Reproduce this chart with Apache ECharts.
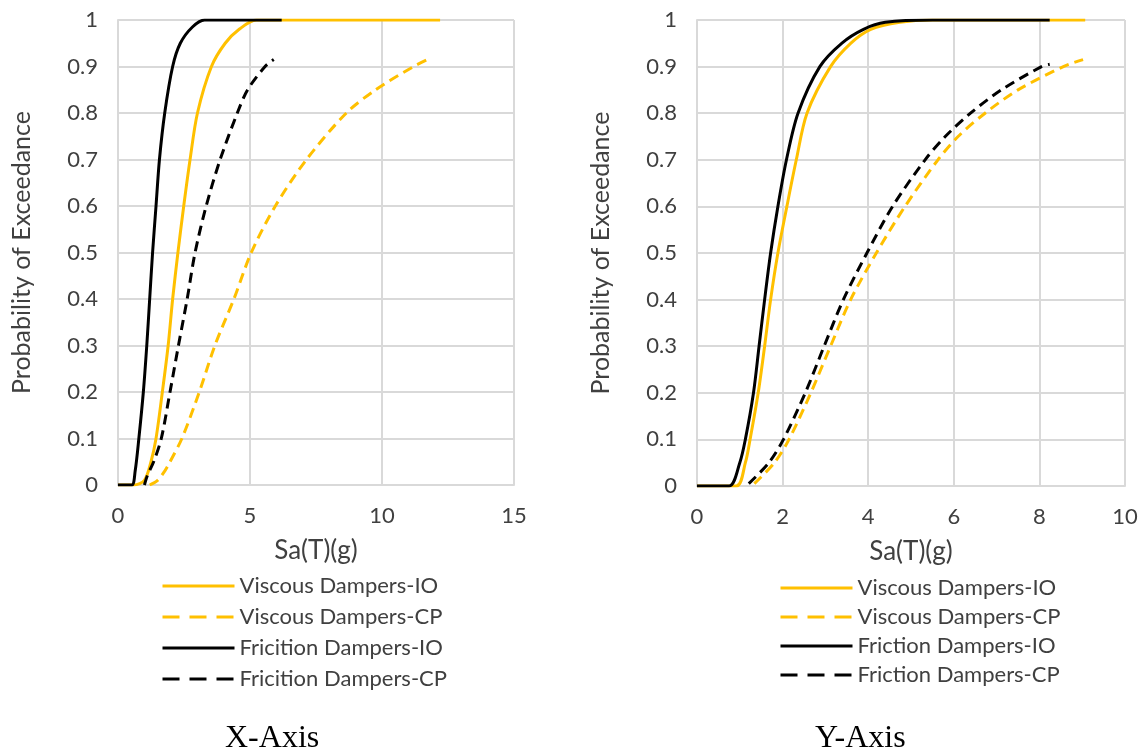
<!DOCTYPE html>
<html><head><meta charset="utf-8">
<script src="https://cdn.jsdelivr.net/npm/echarts@6/dist/echarts.min.js"></script>
<style>html,body{margin:0;padding:0;background:#fff}#c{width:1147px;height:753px}</style>
</head><body><div id="c"></div>
<script>
// ---- Data ----
const yTicks = [0,0.1,0.2,0.3,0.4,0.5,0.6,0.7,0.8,0.9,1];
const xTicksLeft = [0,5,10,15];
const xTicksRight = [0,2,4,6,8,10];
const leftNames = ['Viscous Dampers-IO','Viscous Dampers-CP','Fricition Dampers-IO','Fricition Dampers-CP'];
const rightNames = ['Viscous Dampers-IO','Viscous Dampers-CP','Friction Dampers-IO','Friction Dampers-CP'];
const captions = ['X-Axis','Y-Axis'];

// X-Axis panel
const viscIO_X = [[0,0],[0.6,0],[1.0,0.01],[1.25,0.05],[1.44,0.1],[1.68,0.2],[1.9,0.3],[2.07,0.4],[2.27,0.5],[2.49,0.6],[2.73,0.7],[3.01,0.8],[3.54,0.9],[4.06,0.95],[4.59,0.98],[5.24,1.0],[12.2,1.0]];
const viscCP_X = [[1.2,0],[1.5,0.01],[1.77,0.03],[1.97,0.05],[2.42,0.1],[3.08,0.2],[3.67,0.3],[4.39,0.4],[5.05,0.5],[5.96,0.6],[7.14,0.7],[8.65,0.8],[9.76,0.85],[11.2,0.9],[11.73,0.915]];
const fricIO_X = [[0,0],[0.52,0],[0.65,0.03],[0.79,0.1],[0.96,0.2],[1.09,0.3],[1.2,0.4],[1.31,0.5],[1.44,0.6],[1.57,0.7],[1.77,0.8],[2.07,0.9],[2.36,0.95],[2.82,0.985],[3.28,1.0],[6.2,1.0]];
const fricCP_X = [[1.0,0],[1.11,0.02],[1.35,0.05],[1.64,0.1],[1.97,0.2],[2.29,0.3],[2.62,0.4],[2.92,0.5],[3.34,0.6],[3.87,0.7],[4.52,0.8],[4.91,0.85],[5.57,0.9],[5.9,0.915]];

// Y-Axis panel
const viscIO_Y = [[0,0],[0.92,0],[1.13,0.05],[1.24,0.1],[1.43,0.2],[1.58,0.3],[1.72,0.4],[1.89,0.5],[2.1,0.6],[2.32,0.7],[2.57,0.8],[3.12,0.9],[3.59,0.95],[4.06,0.98],[4.74,0.995],[5.5,1.0],[9.07,1.0]];
const viscCP_Y = [[1.34,0.005],[1.81,0.05],[2.15,0.1],[2.66,0.2],[3.12,0.3],[3.59,0.4],[4.19,0.5],[4.86,0.6],[5.63,0.7],[6.1,0.75],[6.73,0.8],[7.5,0.85],[8.56,0.9],[9.02,0.915]];
const fricIO_Y = [[0,0],[0.75,0],[1.0,0.05],[1.13,0.1],[1.32,0.2],[1.45,0.3],[1.58,0.4],[1.72,0.5],[1.89,0.6],[2.09,0.7],[2.36,0.8],[2.87,0.9],[3.38,0.95],[3.89,0.98],[4.4,0.995],[5.5,1.0],[8.24,1.0]];
const fricCP_Y = [[1.21,0.005],[1.68,0.05],[2.02,0.1],[2.53,0.2],[2.97,0.3],[3.42,0.4],[3.97,0.5],[4.57,0.6],[5.33,0.7],[5.8,0.75],[6.39,0.8],[7.11,0.85],[8.05,0.9],[8.24,0.905]];

// ---- Styling ----
const FONT = 'Lato';
const YEL = '#FFC000', BLK = '#000000', GRID = '#d9d9d9', TXT = '#404040';
const DASH = [10,6];

function xAxis(idx, max, interval){
  return {type:'value', gridIndex:idx, min:0, max:max, interval:interval,
    name:'Sa(T)(g)', nameLocation:'middle', nameGap:53,
    nameTextStyle:{fontFamily:FONT, fontSize:26, color:TXT},
    axisLine:{show:true, lineStyle:{color:GRID, width:2}},
    axisTick:{show:false},
    axisLabel:{fontFamily:FONT, fontSize:22, color:TXT, margin:20},
    splitLine:{show:true, lineStyle:{color:GRID, width:2}}};
}
function yAxis(idx){
  return {type:'value', gridIndex:idx, min:0, max:1, interval:0.1,
    name:'Probability of Exceedance', nameLocation:'middle', nameGap:84, nameRotate:90,
    nameTextStyle:{fontFamily:FONT, fontSize:25, color:TXT},
    axisLine:{show:true, lineStyle:{color:GRID, width:2}},
    axisTick:{show:false},
    axisLabel:{fontFamily:FONT, fontSize:22, color:TXT, margin:20},
    splitLine:{show:true, lineStyle:{color:GRID, width:2}}};
}
function ser(name, data, color, dashed, idx){
  return {type:'line', name:name, data:data, xAxisIndex:idx, yAxisIndex:idx,
    showSymbol:false, symbol:'none', smooth:0.3,
    lineStyle:{color:color, width:3, type: dashed ? DASH : 'solid'},
    itemStyle:{color:color}, z: color===BLK ? 3 : 2};
}
function legend(names, left, top, gap){
  return {orient:'vertical', left:left, top:top, itemGap:gap, itemWidth:72, itemHeight:14,
    itemStyle:{opacity:0},
    textStyle:{fontFamily:FONT, fontSize:22, color:TXT, lineHeight:26},
    data: names.map((n,i)=>({name:n, itemStyle:{opacity:0},
      lineStyle:{type: i%2===1 ? [17,10] : 'solid', width:3}}))
  };
}

const chart = echarts.init(document.getElementById('c'), null, {renderer:'canvas'});
chart.setOption({
  animation:false,
  backgroundColor:'#fff',
  grid:[{left:118, top:20, width:396, height:465},{left:697, top:20, width:428, height:466}],
  xAxis:[xAxis(0,15,5), xAxis(1,10,2)],
  yAxis:[yAxis(0), yAxis(1)],
  legend:[legend(leftNames, 156, 568, 5), legend(rightNames, 774, 570, 3)],
  series:[
    ser(leftNames[0], viscIO_X, YEL, false, 0),
    ser(leftNames[1], viscCP_X, YEL, true, 0),
    ser(leftNames[2], fricIO_X, BLK, false, 0),
    ser(leftNames[3], fricCP_X, BLK, true, 0),
    ser(rightNames[0], viscIO_Y, YEL, false, 1),
    ser(rightNames[1], viscCP_Y, YEL, true, 1),
    ser(rightNames[2], fricIO_Y, BLK, false, 1),
    ser(rightNames[3], fricCP_Y, BLK, true, 1)
  ],
  graphic:[
    {type:'text', left:225, top:723, style:{text:captions[0], font:'32px "Liberation Serif"', fill:'#000'}},
    {type:'text', left:815, top:723, style:{text:captions[1], font:'32px "Liberation Serif"', fill:'#000'}}
  ]
});
</script></body></html>
